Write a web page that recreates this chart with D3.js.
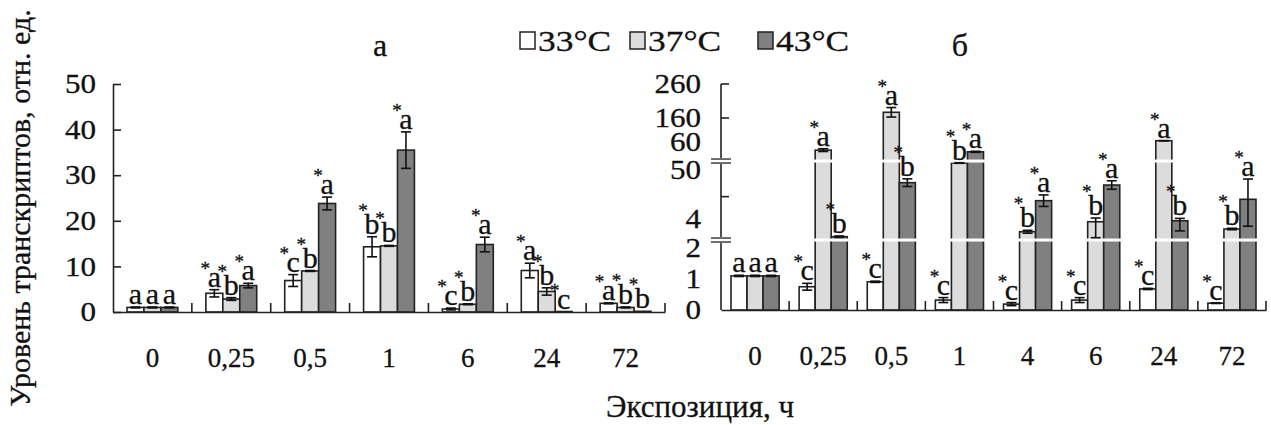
<!DOCTYPE html>
<html>
<head>
<meta charset="utf-8">
<script src="https://cdn.jsdelivr.net/npm/d3@7"></script>
<style>
  body { margin: 0; background: #fff; }
  svg text { font-family: "Liberation Serif", "Times New Roman", Times, serif; fill: #111; stroke: #111; stroke-width: 0.3px; }
</style>
</head>
<body>
<div id="chart"></div>
<script>
// Series
var seriesNames = ["33°C", "37°C", "43°C"];
var seriesColors = ["#ffffff", "#dcdcdc", "#808080"];

// Panel а: exposure times and values
var timesA = ["0", "0,25", "0,5", "1", "6", "24", "72"];
var valsA33 = [1.0, 4.1, 6.9, 14.3, 0.66, 9.1, 1.9];
var valsA37 = [1.0, 2.85, 9.0, 14.5, 1.7, 4.5, 1.0];
var valsA43 = [1.0, 5.8, 23.8, 35.5, 14.8, 0.1, 0.15];
var errA33 = [0.1, 0.8, 1.3, 2.2, 0.2, 1.6, 0.1];
var errA37 = [0.1, 0.3, 0.1, 0.1, 0.1, 0.8, 0.1];
var errA43 = [0.1, 0.5, 1.4, 4.0, 1.6, 0, 0];
var letA33 = ["a", "a", "c", "b", "c", "a", "a"];
var letA37 = ["a", "b", "b", "b", "b", "b", "b"];
var letA43 = ["a", "a", "a", "a", "a", "c", "b"];
var starA = [0, 1, 1, 1, 1, 1, 1];
var ticksA = [0, 10, 20, 30, 40, 50];

// Panel б: exposure times and values (broken axis)
var timesB = ["0", "0,25", "0,5", "1", "4", "6", "24", "72"];
var valsB33 = [1.1, 0.75, 0.91, 0.32, 0.19, 0.32, 0.68, 0.22];
var valsB37 = [1.1, 57.1, 176.8, 52.5, 3.12, 3.81, 65.4, 3.31];
var valsB43 = [1.1, 2.78, 38.1, 56.5, 21.2, 35.9, 3.88, 22.5];
var errB33 = [0.02, 0.11, 0.02, 0.08, 0.05, 0.08, 0.02, 0.01];
var errB37 = [0.02, 0.5, 14, 0.1, 0.1, 1.1, 0.3, 0.05];
var errB43 = [0.02, 0.05, 3.6, 0.2, 5.4, 4.0, 0.7, 19];
var letB33 = ["a", "c", "c", "c", "c", "c", "c", "c"];
var letB37 = ["a", "a", "a", "b", "b", "b", "a", "b"];
var letB43 = ["a", "b", "b", "a", "a", "a", "b", "a"];
var starB = [0, 1, 1, 1, 1, 1, 1, 1];
var tickLabelsB = [0, 1, 2, 4, 50, 60, 160, 260];
var tickMarksB = [25, 160, 260];
var breaksB = [2.55, 53.2];

var svg = d3.select("#chart").append("svg")
  .attr("width", 1271)
  .attr("height", 425);

// text stretched sideways a little, like the scanned figure
function wide(sel, sx) {
  sel.attr("transform", function() {
    var t = d3.select(this);
    var x = +t.attr("x") || 0, y = +t.attr("y") || 0;
    t.attr("x", 0).attr("y", 0);
    return "translate(" + x + "," + y + ") scale(" + sx + ",1)";
  });
}

// Build one panel
function drawPanel(cfg) {
  var g = svg.append("g");
  var x = d3.scaleBand().domain(cfg.times).range([cfg.x0, cfg.x1]);
  var xs = d3.scaleBand().domain([0, 1, 2])
    .range([cfg.pad, x.bandwidth() - cfg.pad]);
  var y = cfg.y;
  var base = y(0);

  var rows = [];
  cfg.times.forEach(function(t, i) {
    for (var s = 0; s < 3; s++) {
      rows.push({t: t, s: s, v: cfg.vals[s][i], e: cfg.errs[s][i],
        l: cfg.lets[s][i], star: cfg.stars[i]});
    }
  });

  // bars
  g.selectAll(".bar").data(rows).enter().append("rect")
    .attr("x", d => x(d.t) + xs(d.s))
    .attr("y", d => y(d.v))
    .attr("width", xs.bandwidth())
    .attr("height", d => base - y(d.v))
    .attr("fill", d => seriesColors[d.s])
    .attr("stroke", "#222")
    .attr("stroke-width", 1.6);

  // break gaps across bars
  if (cfg.breaks) {
    cfg.breaks.forEach(function(b) {
      g.append("rect")
        .attr("x", cfg.x0 + 2).attr("y", y(b) - 1.5)
        .attr("width", cfg.x1 - cfg.x0).attr("height", 3)
        .attr("fill", "#fff");
    });
  }

  // error bars
  var eb = g.selectAll(".err").data(rows.filter(d => d.e > 0)).enter().append("g")
    .attr("stroke", "#111").attr("stroke-width", 1.6);
  var cx = d => x(d.t) + xs(d.s) + xs.bandwidth() / 2;
  eb.append("line")
    .attr("x1", cx).attr("x2", cx)
    .attr("y1", d => y(d.v + d.e)).attr("y2", d => y(Math.max(d.v - d.e, 0)));
  eb.append("line")
    .attr("x1", d => cx(d) - 5).attr("x2", d => cx(d) + 5)
    .attr("y1", d => y(d.v + d.e)).attr("y2", d => y(d.v + d.e));
  eb.append("line")
    .attr("x1", d => cx(d) - 5).attr("x2", d => cx(d) + 5)
    .attr("y1", d => y(Math.max(d.v - d.e, 0))).attr("y2", d => y(Math.max(d.v - d.e, 0)));

  // letters and stars
  var lab = g.selectAll(".lab").data(rows).enter().append("g")
    .attr("transform", d => "translate(" + cx(d) + "," + (Math.min(y(d.v), y(d.v + d.e)) - 3) + ")");
  lab.append("text")
    .attr("text-anchor", "middle")
    .style("font-size", "30px")
    .text(d => d.l);
  lab.filter(d => d.star).append("text")
    .attr("text-anchor", "middle")
    .attr("x", -9)
    .attr("y", d => d.l === "b" ? -17 : -12)
    .style("font-size", "19px")
    .text("*");

  // x axis
  var xAxis = d3.axisBottom(x).tickSize(0).tickSizeOuter(0).tickPadding(36);
  var xg = g.append("g").attr("transform", "translate(0," + base + ")").call(xAxis)
    .attr("font-family", null).attr("font-size", null);
  xg.select(".domain").attr("stroke", "#222").attr("stroke-width", 1.6);
  xg.selectAll("text").style("font-size", "27px").attr("fill", "#111");
  g.selectAll(".sep").data(cfg.times.slice(1).concat(["end"])).enter().append("line")
    .attr("x1", d => d === "end" ? cfg.x1 : x(d))
    .attr("x2", d => d === "end" ? cfg.x1 : x(d))
    .attr("y1", base).attr("y2", base - 9)
    .attr("stroke", "#222").attr("stroke-width", 1.6);

  return {x: x, g: g};
}

// Panel а
var yA = d3.scaleLinear().domain([0, 50]).range([312, 84]);
var pA = drawPanel({
  times: timesA, x0: 113, x1: 665, pad: 14, y: yA,
  vals: [valsA33, valsA37, valsA43], errs: [errA33, errA37, errA43],
  lets: [letA33, letA37, letA43], stars: starA
});
var yAxisA = d3.axisLeft(yA).tickValues(ticksA).tickSizeInner(-8).tickSizeOuter(0).tickPadding(17);
var yaG = pA.g.append("g").attr("transform", "translate(113,0)").call(yAxisA)
  .attr("font-family", null).attr("font-size", null);
yaG.selectAll("line, path").attr("stroke", "#222").attr("stroke-width", 1.6);
yaG.selectAll("text").style("font-size", "27px").attr("fill", "#111").call(wide, 1.15);

// Panel б, polylinear broken scale
var yB = d3.scaleLinear()
  .domain([0, 1, 2, 4, 50, 60, 160, 260])
  .range([310, 279, 248, 219, 170, 142, 118, 84]);
var pB = drawPanel({
  times: timesB, x0: 721, x1: 1266, pad: 10, y: yB,
  vals: [valsB33, valsB37, valsB43], errs: [errB33, errB37, errB43],
  lets: [letB33, letB37, letB43], stars: starB, breaks: breaksB
});
var ybG = pB.g.append("g").attr("transform", "translate(721,0)");
ybG.append("line").attr("x1", 0).attr("x2", 0).attr("y1", yB(0)).attr("y2", yB(260))
  .attr("stroke", "#222").attr("stroke-width", 1.6);
ybG.selectAll(".tm").data(tickMarksB).enter().append("line")
  .attr("x1", 0).attr("x2", 8).attr("y1", d => yB(d)).attr("y2", d => yB(d))
  .attr("stroke", "#222").attr("stroke-width", 1.6);
ybG.selectAll(".tl").data(tickLabelsB).enter().append("text")
  .attr("x", -20).attr("y", d => yB(d) + 9)
  .attr("text-anchor", "end").style("font-size", "27px")
  .text(d => d)
  .call(wide, 1.15);
breaksB.forEach(function(b) {
  ybG.append("rect").attr("x", -3).attr("y", yB(b) - 3).attr("width", 6).attr("height", 6).attr("fill", "#fff");
  [-2, 2].forEach(function(o) {
    ybG.append("line").attr("x1", -10).attr("x2", 10)
      .attr("y1", yB(b) + o).attr("y2", yB(b) + o)
      .attr("stroke", "#222").attr("stroke-width", 1.3);
  });
});

// Panel titles
svg.append("text").attr("x", 380).attr("y", 56).attr("text-anchor", "middle")
  .style("font-size", "32px").text("а");
svg.append("text").attr("x", 960).attr("y", 56).attr("text-anchor", "middle")
  .style("font-size", "32px").text("б");

// Legend
var legendX = [520, 630, 758];
var legend = svg.selectAll(".leg").data(seriesNames).enter().append("g")
  .attr("transform", (d, i) => "translate(" + legendX[i] + ",0)");
legend.append("rect").attr("x", 0).attr("y", 32).attr("width", 15).attr("height", 17)
  .attr("fill", (d, i) => seriesColors[i]).attr("stroke", "#222").attr("stroke-width", 1.5);
legend.append("text").attr("x", 18).attr("y", 51).style("font-size", "30px").text(d => d)
  .call(wide, 1.18);

// Axis titles
svg.append("text")
  .attr("transform", "translate(30,208) rotate(-90)")
  .attr("text-anchor", "middle")
  .style("font-size", "30px")
  .text("Уровень транскриптов, отн. ед.");
svg.append("text").attr("x", 700).attr("y", 417).attr("text-anchor", "middle")
  .style("font-size", "31px").text("Экспозиция, ч");
</script>
</body>
</html>
